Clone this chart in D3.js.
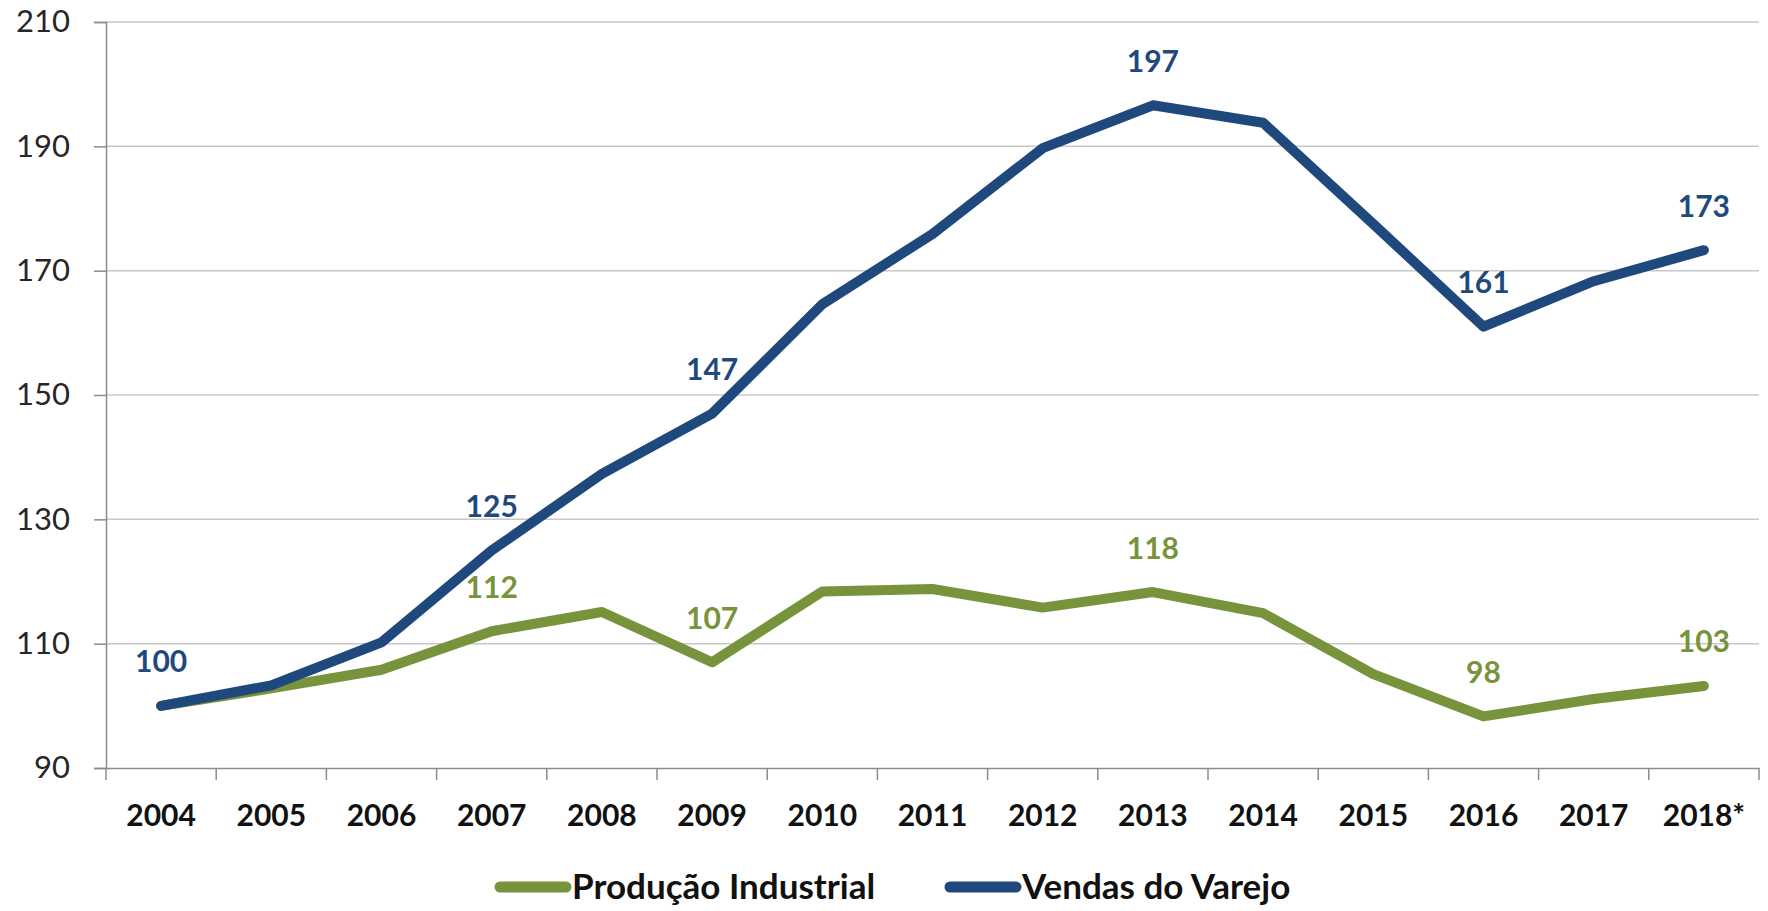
<!DOCTYPE html>
<html>
<head>
<meta charset="utf-8">
<script src="https://cdn.jsdelivr.net/npm/d3@7"></script>
<style>
  body { margin: 0; background: #fff; }
  svg { display: block; font-family: Lato, "Open Sans", sans-serif; }
</style>
</head>
<body>
<div id="chart"></div>
<script>
const width = 1768;
const height = 911;

// data
const years = ["2004", "2005", "2006", "2007", "2008", "2009", "2010", "2011",
               "2012", "2013", "2014", "2015", "2016", "2017", "2018*"];
const producao = [100, 102.8, 105.8, 112, 115.1, 107, 118.4, 118.8, 115.8, 118.3, 114.9, 105.1, 98.3, 101.1, 103.2];
const varejo = [100, 103.3, 110.2, 125, 137.3, 147, 164.6, 175.9, 189.7, 196.6, 193.8, 177.5, 161, 168.3, 173.3];
const producaoLabels = [3, 5, 9, 12, 14];
const varejoLabels = [0, 3, 5, 9, 12, 14];
const yTicks = [90, 110, 130, 150, 170, 190, 210];

const green = "#77933c";
const blue = "#1f497d";

const svg = d3.select("#chart")
    .append("svg")
    .attr("width", width)
    .attr("height", height);

const plotLeft = 106, plotRight = 1759, plotTop = 22, plotBottom = 768;

let x = d3.scaleBand()
    .domain(years)
    .range([plotLeft, plotRight]);

let y = d3.scaleLinear()
    .domain([90, 210])
    .range([plotBottom, plotTop]);

// gridlines
svg.append("g")
    .selectAll("line")
    .data(yTicks.slice(1))
    .enter()
    .append("line")
    .attr("x1", plotLeft)
    .attr("x2", plotRight)
    .attr("y1", d => y(d))
    .attr("y2", d => y(d))
    .attr("stroke", "#c8c8c8")
    .attr("stroke-width", 1.5);

// y axis
let yAxis = svg.append("g")
    .attr("transform", "translate(" + plotLeft + ",0)")
    .call(d3.axisLeft(y).tickValues(yTicks).tickSize(12).tickPadding(24).tickFormat(d3.format("d")));
yAxis.select(".domain").attr("stroke", "#8c8c8c").attr("stroke-width", 1.5);
yAxis.selectAll(".tick line").attr("stroke", "#8c8c8c").attr("stroke-width", 1.5);
yAxis.selectAll("text")
    .attr("font-size", 31)
    .attr("fill", "#262626")
    .attr("font-family", "Lato, sans-serif");

// x axis
let xAxis = svg.append("g")
    .attr("transform", "translate(0," + plotBottom + ")")
    .call(d3.axisBottom(x).tickSize(0).tickPadding(37));
xAxis.select(".domain").attr("stroke", "#8c8c8c").attr("stroke-width", 1.5);
xAxis.selectAll("text")
    .attr("font-size", 30)
    .attr("font-weight", "bold")
    .attr("fill", "#111")
    .attr("font-family", "Lato, sans-serif");

// x tick marks at category boundaries
svg.append("g")
    .selectAll("line")
    .data(years.concat(["end"]))
    .enter()
    .append("line")
    .attr("x1", (d, i) => i < years.length ? x(d) : plotRight)
    .attr("x2", (d, i) => i < years.length ? x(d) : plotRight)
    .attr("y1", plotBottom)
    .attr("y2", plotBottom + 12)
    .attr("stroke", "#8c8c8c")
    .attr("stroke-width", 1.5);

let line = d3.line()
    .x((d, i) => x(years[i]) + x.bandwidth() / 2)
    .y(d => y(d));

let series = [
    { name: "Produção Industrial", values: producao, color: green, labels: producaoLabels },
    { name: "Vendas do Varejo", values: varejo, color: blue, labels: varejoLabels }
];

series.forEach(s => {
    svg.append("path")
        .datum(s.values)
        .attr("d", line)
        .attr("fill", "none")
        .attr("stroke", s.color)
        .attr("stroke-width", 10)
        .attr("stroke-linecap", "round")
        .attr("stroke-linejoin", "round");
});

// data labels
series.forEach(s => {
    svg.append("g")
        .selectAll("text")
        .data(s.labels)
        .enter()
        .append("text")
        .attr("x", i => x(years[i]) + x.bandwidth() / 2)
        .attr("y", i => y(s.values[i]) - 44)
        .attr("dy", "0.35em")
        .attr("text-anchor", "middle")
        .attr("font-size", 30)
        .attr("font-weight", "bold")
        .attr("fill", s.color)
        .text(i => Math.round(s.values[i]));
});

// legend
let legend = svg.append("g")
    .selectAll("g")
    .data(series)
    .enter()
    .append("g")
    .attr("transform", (d, i) => "translate(" + [500, 950][i] + ",887)");

legend.append("line")
    .attr("x1", 0)
    .attr("x2", 66)
    .attr("stroke", d => d.color)
    .attr("stroke-width", 11)
    .attr("stroke-linecap", "round");

legend.append("text")
    .attr("x", 72)
    .attr("dy", "0.35em")
    .attr("font-size", 35)
    .attr("font-weight", "bold")
    .attr("fill", "#111")
    .text(d => d.name);
</script>
</body>
</html>
